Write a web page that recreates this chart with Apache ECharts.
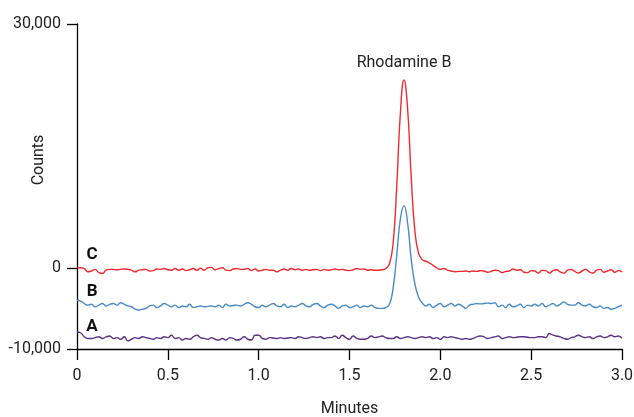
<!DOCTYPE html>
<html>
<head>
<meta charset="utf-8">
<script src="https://cdn.jsdelivr.net/npm/echarts@6/dist/echarts.min.js"></script>
<style>html,body{margin:0;padding:0;background:#fff}#c{width:634px;height:417px}</style>
</head>
<body>
<div id="c"></div>
<script>
var FONT = "Roboto, 'Liberation Sans', sans-serif";

// time in minutes, step 0.02
var minutes = [];
for (var i = 0; i <= 150; i++) minutes.push(+(i * 0.02).toFixed(2));

var traceC = [
 0,0,-100,-500,-400,-200,-600,-700,-300,-200,
 -200,-250,-200,-150,-200,-300,-500,-300,-250,-200,
 -400,-350,-150,-200,-100,-250,-300,-100,-300,-150,
 -350,-250,-100,-300,-50,-300,0,50,-250,-100,
 0,-300,-350,-150,-100,-200,-200,-100,-350,-150,
 -400,-300,-200,-300,-300,-500,-300,-150,-300,-100,
 -250,-150,-300,-200,-300,-250,-200,-350,-200,-300,
 -250,-150,-250,-200,-300,-350,-250,-100,-200,-150,
 -300,-250,-300,-300,-250,-100,500,3000,10000,19000,
 23100,19500,11000,4500,1800,1000,800,600,300,0,
 -200,-100,-300,-400,-500,-450,-450,-400,-500,-400,
 -450,-350,-400,-550,-450,-300,-350,-600,-450,-400,
 -150,-300,-250,-550,-600,-350,-400,-650,-300,-350,
 -650,-350,-250,-500,-650,-300,-200,-450,-650,-400,
 -200,-500,-650,-300,-200,-550,-400,-250,-550,-350,
 -500
];

var traceB = [
 -4000,-4100,-4400,-4600,-4500,-4800,-4600,-4400,-4700,-4500,
 -4400,-4600,-4300,-4500,-4700,-4800,-5100,-5200,-5100,-5000,
 -4700,-4600,-4900,-4700,-4400,-4600,-4800,-4600,-4900,-4700,
 -4800,-4500,-4900,-4800,-4700,-4800,-4750,-4700,-4800,-4600,
 -4900,-4500,-4700,-4650,-4600,-4700,-4500,-4300,-4500,-4800,
 -4900,-4600,-4800,-4600,-4400,-4700,-4800,-4500,-4900,-4700,
 -4800,-4600,-4400,-4700,-4800,-4500,-4400,-4700,-4900,-4600,
 -4500,-4700,-5000,-4700,-4600,-4900,-4800,-4600,-4900,-4700,
 -4800,-4600,-4900,-5000,-5000,-4900,-4500,-2500,1500,6000,
 7650,5500,1000,-2000,-3600,-4300,-4700,-4500,-4900,-4600,
 -4400,-4800,-4600,-4400,-4700,-4500,-4700,-5000,-4600,-4500,
 -4400,-4450,-4400,-4350,-4400,-4300,-4800,-4600,-4900,-4500,
 -4800,-4700,-4500,-4900,-4600,-4700,-4500,-4700,-4400,-4800,
 -4600,-4400,-4700,-4500,-4200,-4500,-4600,-4600,-4300,-4600,
 -4700,-4500,-4800,-4900,-4700,-5000,-4900,-5100,-5000,-4800,
 -4600
];

var traceA = [
 -7900,-8000,-8500,-8700,-8700,-8600,-8500,-8700,-8500,-8400,
 -8700,-8600,-8800,-8500,-9000,-8800,-8600,-8700,-8500,-8600,
 -8700,-8800,-8600,-8700,-8500,-8600,-8300,-8700,-8600,-8900,
 -8700,-8800,-8500,-8300,-8600,-8700,-8800,-8600,-8800,-8900,
 -8700,-8900,-8600,-8700,-8900,-8800,-8500,-8800,-8900,-8300,
 -8300,-8700,-8800,-8600,-8650,-8700,-8600,-8700,-8650,-8600,
 -8700,-8500,-8600,-8700,-8600,-8500,-8600,-8500,-8700,-8600,
 -8600,-8400,-8700,-8300,-8600,-8800,-8400,-8700,-8800,-8800,
 -8700,-8400,-8600,-8500,-8400,-8600,-8700,-8700,-8500,-8700,
 -8600,-8500,-8600,-8700,-8600,-8500,-8600,-8500,-8700,-8600,
 -8800,-8500,-8600,-8500,-8600,-8700,-8800,-8700,-8800,-8700,
 -8500,-8400,-8500,-8700,-8600,-8500,-8400,-8700,-8600,-8500,
 -8600,-8550,-8500,-8500,-8550,-8600,-8600,-8500,-8500,-8600,
 -8100,-8300,-8400,-8500,-8700,-8800,-8600,-8500,-8300,-8500,
 -8600,-8500,-8700,-8500,-8400,-8600,-8500,-8300,-8500,-8400,
 -8700
];

var yTicks = [-10000, 0, 30000];
var traceLabels = ['A', 'B', 'C'];
var peakName = 'Rhodamine B';

function pairs(arr) { return minutes.map(function (m, i) { return [m, arr[i]]; }); }

var HIDDEN = { color: 'rgba(0,0,0,0)', borderWidth: 0 };

function tags(items) {
  return {
    symbol: 'circle', symbolSize: 1, silent: true, animation: false,
    itemStyle: HIDDEN,
    data: items.map(function (t) {
      return { coord: [t.x, t.y], value: t.text,
        label: { show: true, position: 'inside', formatter: t.text,
          fontFamily: FONT, fontSize: t.size || 17, fontWeight: t.bold ? 'bold' : 'normal',
          color: t.bold ? '#111' : '#222' } };
    })
  };
}

var chart = echarts.init(document.getElementById('c'), null, { renderer: 'canvas' });
chart.setOption({
  animation: false,
  backgroundColor: '#fff',
  grid: { left: 77, right: 12, top: 24, bottom: 68, containLabel: false, outerBoundsMode: 'none' },
  xAxis: {
    type: 'value', min: 0, max: 3, interval: 0.5,
    name: 'Minutes', nameLocation: 'middle', nameGap: 52,
    nameTextStyle: { fontFamily: FONT, fontSize: 16, color: '#222' },
    axisLine: { onZero: false, lineStyle: { color: '#000', width: 1.3 } },
    axisTick: { show: true, length: 11, lineStyle: { color: '#000', width: 1.3 } },
    axisLabel: { margin: 19, fontFamily: FONT, fontSize: 16, color: '#222',
      formatter: function (v) { return v === 0 ? '0' : v.toFixed(1); } },
    splitLine: { show: false }
  },
  yAxis: {
    type: 'value', min: -10000, max: 30000, interval: 10000,
    axisLine: { show: true, lineStyle: { color: '#000', width: 1.3 } },
    axisTick: { show: true, length: 10, customValues: yTicks, lineStyle: { color: '#000', width: 1.3 } },
    axisLabel: { margin: 16, fontFamily: FONT, fontSize: 16, color: '#222', customValues: yTicks,
      formatter: function (v) { return v === 0 ? '0' : (v < 0 ? '-' : '') + Math.abs(v).toLocaleString('en-US'); } },
    splitLine: { show: false }
  },
  graphic: [{
    type: 'text', x: 39, y: 160, rotation: Math.PI / 2,
    style: { text: 'Counts', fontFamily: FONT, fontSize: 16, fill: '#222', align: 'center', verticalAlign: 'middle' }
  }],
  series: [
    { name: 'A', type: 'line', data: pairs(traceA), showSymbol: false, smooth: 0.5,
      lineStyle: { color: '#5b3286', width: 1.4 }, itemStyle: { color: '#5b3286' },
      markPoint: tags([{ x: 0.083, y: -7200, text: traceLabels[0], bold: true }]) },
    { name: 'B', type: 'line', data: pairs(traceB), showSymbol: false, smooth: 0.5,
      lineStyle: { color: '#4a8bc8', width: 1.4 }, itemStyle: { color: '#4a8bc8' },
      markPoint: tags([{ x: 0.083, y: -3000, text: traceLabels[1], bold: true }]) },
    { name: 'C', type: 'line', data: pairs(traceC), showSymbol: false, smooth: 0.5,
      lineStyle: { color: '#ee2a30', width: 1.4 }, itemStyle: { color: '#ee2a30' },
      markPoint: tags([
        { x: 0.083, y: 1650, text: traceLabels[2], bold: true },
        { x: 1.8, y: 25200, text: peakName, size: 16 }
      ]) }
  ]
});
</script>
</body>
</html>
